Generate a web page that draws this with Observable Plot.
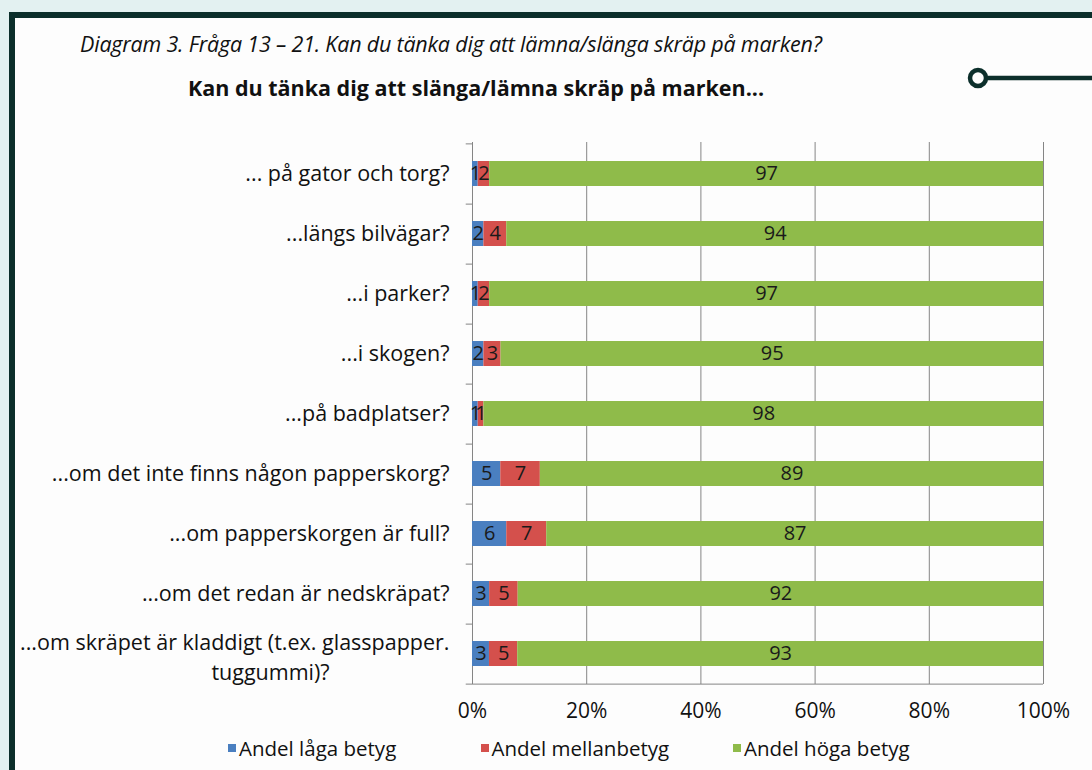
<!DOCTYPE html>
<html><head><meta charset="utf-8">
<script src="https://cdn.jsdelivr.net/npm/d3@7"></script>
<script src="https://cdn.jsdelivr.net/npm/@observablehq/plot@0.6"></script>
<style>
html,body{margin:0;padding:0;}
body{background:#e3f1f1;width:1092px;height:770px;overflow:hidden;position:relative;font-family:"Open Sans",Lato,sans-serif;color:#111;}
#frame{position:absolute;left:9px;top:12px;width:1200px;height:900px;border-left:6px solid #0c2f2b;border-top:6px solid #0c2f2b;background:#fdfdfd;}
#t1{position:absolute;left:80px;top:29px;font-size:21.5px;font-style:italic;white-space:nowrap;letter-spacing:-0.2px;}
#t2{position:absolute;left:0;width:952px;text-align:center;top:73px;font-size:21.5px;font-weight:bold;white-space:nowrap;}
#deco{position:absolute;left:0;top:0;}
#chart{position:absolute;left:0;top:120px;}
#legend{position:absolute;left:228px;top:734px;display:flex;font-size:20.5px;white-space:nowrap;}
#legend .it{width:252.5px;display:flex;align-items:center;}
#legend .sw{width:8px;height:8px;margin-right:3px;}
</style></head>
<body>
<div id="frame"></div>
<svg id="deco" width="1092" height="120"><circle cx="978" cy="78" r="8" fill="none" stroke="#0c2f2b" stroke-width="4.5"/><line x1="986" y1="78" x2="1092" y2="78" stroke="#0c2f2b" stroke-width="4.5"/></svg>
<div id="t1">Diagram 3. Fråga 13 – 21. Kan du tänka dig att lämna/slänga skräp på marken?</div>
<div id="t2">Kan du tänka dig att slänga/lämna skräp på marken...</div>
<div id="chart"></div>
<div id="legend"></div>
<script>
const categories = [
  "... på gator och torg?",
  "...längs bilvägar?",
  "...i parker?",
  "...i skogen?",
  "...på badplatser?",
  "...om det inte finns någon papperskorg?",
  "...om papperskorgen är full?",
  "...om det redan är nedskräpat?",
  "...om skräpet är kladdigt (t.ex. glasspapper.\ntuggummi)?"
];
const series = ["Andel låga betyg", "Andel mellanbetyg", "Andel höga betyg"];
const colors = ["#4a7fc0", "#d4504c", "#8fbb4a"];
const lowValues  = [1, 2, 1, 2, 1, 5, 6, 3, 3];
const midValues  = [2, 4, 2, 3, 1, 7, 7, 5, 5];
const highValues = [97, 94, 97, 95, 98, 89, 87, 92, 93];
const xTicks = [0, 0.2, 0.4, 0.6, 0.8, 1];

const seriesValues = [lowValues, midValues, highValues];
const data = [];
categories.forEach((c, i) => series.forEach((s, k) => data.push({cat: c, series: s, value: seriesValues[k][i]})));

const marginTop = 22, plotH = 542, marginBottom = 46;
const bw = plotH / categories.length;
const lines = categories.map(c => c.split("\n"));
const single = categories.filter((c, i) => lines[i].length === 1);
const multi = categories.filter((c, i) => lines[i].length > 1);
const font = "'Open Sans', Lato, sans-serif";

const chart = Plot.plot({
  width: 1092,
  height: marginTop + plotH + marginBottom,
  marginLeft: 472, marginRight: 49, marginTop, marginBottom,
  style: {fontFamily: font, background: "transparent", color: "#111"},
  x: {domain: [0, 1], axis: null},
  y: {domain: categories, paddingInner: 0.585, paddingOuter: 0.2925, axis: null},
  color: {domain: series, range: colors},
  marks: [
    Plot.ruleX(xTicks, {x: d => d, stroke: "#858585", strokeWidth: 1}),
    Plot.barX(data, Plot.stackX({x: "value", y: "cat", fill: "series", offset: "normalize", order: series})),
    Plot.text(data, Plot.stackX({x: "value", y: "cat", z: "series", text: "value", offset: "normalize", order: series, fill: "#1a1a1a", fontSize: 20})),
    Plot.ruleY([categories[categories.length - 1]], {y: d => d, dy: bw / 2, x1: 0, x2: 1, stroke: "#858585"}),
    Plot.ruleY(categories, {y: d => d, dy: bw / 2, x1: -0.011, x2: 0, stroke: "#858585"}),
    Plot.ruleY([categories[0]], {y: d => d, dy: -bw / 2, x1: -0.011, x2: 0, stroke: "#858585"}),
    Plot.ruleX(xTicks, {x: d => d, y: categories[categories.length - 1], dy: bw / 2 + 4, insetTop: -4, insetBottom: -4, stroke: "#858585"}),
    Plot.text(xTicks, {x: d => d, frameAnchor: "bottom", dy: 33, text: d => Math.round(d * 100) + "%", fontSize: 21, fill: "#111"}),
    Plot.text(single, {y: d => d, x: 0, dx: -23, textAnchor: "end", text: d => d, fontSize: 21.5, fill: "#111"}),
    Plot.text(multi, {y: d => d, x: 0, dx: -23, dy: -11, textAnchor: "end", text: d => d.split("\n")[0], fontSize: 21.5, fill: "#111"}),
    Plot.text(multi, {y: d => d, x: 0, dx: -202, dy: 19, textAnchor: "middle", text: d => d.split("\n")[1], fontSize: 21.5, fill: "#111"})
  ]
});
document.getElementById("chart").appendChild(chart);

const legend = document.getElementById("legend");
series.forEach((s, k) => {
  const it = document.createElement("div"); it.className = "it";
  const sw = document.createElement("span"); sw.className = "sw"; sw.style.background = colors[k];
  const tx = document.createElement("span"); tx.textContent = s;
  it.appendChild(sw); it.appendChild(tx); legend.appendChild(it);
});
</script>
</body></html>
